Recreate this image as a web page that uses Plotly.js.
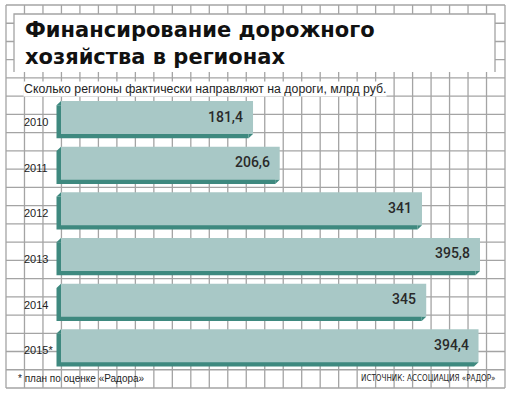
<!DOCTYPE html>
<html>
<head>
<meta charset="utf-8">
<script src="https://cdn.plot.ly/plotly-3.0.1.min.js"></script>
<style>html,body{margin:0;padding:0;background:#fff;}#chart{width:511px;height:398px;}</style>
</head>
<body>
<div id="chart"></div>
<script>
// ---- data ----
const years = ['2010', '2011', '2012', '2013', '2014', '2015*'];
const values = [181.4, 206.6, 341, 395.8, 345, 394.4];
const titleLines = ['Финансирование дорожного', 'хозяйства в регионах'];
const subtitle = 'Сколько регионы фактически направляют на дороги, млрд руб.';
const footnote = '* план по оценке «Радора»';
const source = 'ИСТОЧНИК: АССОЦИАЦИЯ «РАДОР»';

// ---- geometry / style ----
const W = 511, H = 398;
const FACE = '#a8c8c6', DARK = '#3e897f', GRID = '#a4a4a4';
const pxPerUnitX = (480 - 61) / 395.8;
const xRange = [-61 / pxPerUnitX, (W - 61) / pxPerUnitX];
const rowStep = 45.66, firstCenter = 117.5;
const yRange = [(H - firstCenter) / rowStep, -firstCenter / rowStep];
const barW = 33 / rowStep, h = barW / 2;
const dx = -4.5 / pxPerUnitX, dy = 4.3 / rowStep;
const idx = years.map((_, i) => i);
const fmt = v => String(v).replace('.', ',');
const SANS = 'Liberation Sans, Arial, sans-serif';

const px = x => x / W, py = y => 1 - y / H;

// grid + title box shapes
const shapes = [];
const gx0 = 6, gx1 = 505, gy0 = 5, gy1 = 388;
const nx = 27, ny = 21;
for (let k = 0; k <= nx; k++) {
  const x = gx0 + k * (gx1 - gx0) / nx;
  shapes.push({type: 'line', xref: 'paper', yref: 'paper', x0: px(x), x1: px(x), y0: py(gy0), y1: py(gy1),
    line: {color: GRID, width: 1.3}, layer: 'below'});
}
for (let k = 0; k <= ny; k++) {
  const y = gy0 + k * (gy1 - gy0) / ny;
  shapes.push({type: 'line', xref: 'paper', yref: 'paper', x0: px(gx0), x1: px(gx1), y0: py(y), y1: py(y),
    line: {color: GRID, width: 1.3}, layer: 'below'});
}
shapes.push({type: 'rect', xref: 'paper', yref: 'paper', x0: px(14), x1: px(495), y0: py(72), y1: py(14),
  fillcolor: '#fff', line: {width: 0}, layer: 'below'});
shapes.push({type: 'path', xref: 'paper', yref: 'paper',
  path: `M${px(14)},${py(72)} L${px(14)},${py(14)} L${px(495)},${py(14)} L${px(495)},${py(72)}`,
  line: {color: GRID, width: 1.3}, layer: 'below'});

// traces
const shadow = {
  type: 'bar', orientation: 'h', x: values, y: idx, base: dx, width: barW, offset: -h + dy,
  marker: {color: DARK, line: {width: 0}}, hoverinfo: 'skip'
};
const face = {
  type: 'bar', orientation: 'h', x: values, y: idx, base: 0, width: barW, offset: -h,
  marker: {color: FACE, line: {width: 0}}, hoverinfo: 'skip'
};
const tx = [], ty = [];
values.forEach((v, i) => {
  tx.push(0, dx, 0, null); ty.push(i - h, i - h + dy, i - h + dy, null);
  tx.push(v + dx, v, v + dx, null); ty.push(i + h, i + h, i + h + dy, null);
});
const corners = {
  type: 'scatter', mode: 'lines', x: tx, y: ty, fill: 'toself', fillcolor: DARK,
  line: {color: DARK, width: 0}, hoverinfo: 'skip', connectgaps: false
};

// annotations
const annotations = [];
titleLines.forEach((t, i) => annotations.push({
  xref: 'paper', yref: 'paper', x: px(23), y: py(30 + i * 27.5), xanchor: 'left', yanchor: 'middle',
  text: '<b>' + t + '</b>', showarrow: false, font: {family: 'DejaVu Sans', size: 21, color: '#111'}
}));
annotations.push({
  xref: 'paper', yref: 'paper', x: px(23), y: py(89), xanchor: 'left', yanchor: 'middle',
  text: subtitle, showarrow: false, bgcolor: '#fff', borderpad: 0,
  font: {family: SANS, size: 12.3, color: '#1e1e1e'}
});
years.forEach((yr, i) => annotations.push({
  xref: 'x', yref: 'y', x: 0, y: i, xanchor: 'left', yanchor: 'middle', xshift: -39, yshift: -4.5,
  text: yr, showarrow: false, font: {family: SANS, size: 11, color: '#222'}
}));
values.forEach((v, i) => annotations.push({
  xref: 'x', yref: 'y', x: v, y: i, xanchor: 'right', yanchor: 'middle', xshift: -8, yshift: 1,
  text: fmt(v), showarrow: false, font: {family: 'Roboto, sans-serif', size: 14, color: '#2a2a2a', weight: 500}
}));
annotations.push({
  xref: 'paper', yref: 'paper', x: px(16), y: py(378), xanchor: 'left', yanchor: 'middle',
  text: footnote, showarrow: false, font: {family: SANS, size: 10, color: '#1e1e1e'}
});
annotations.push({
  xref: 'paper', yref: 'paper', x: px(498), y: py(378), xanchor: 'right', yanchor: 'middle',
  text: source, showarrow: false, font: {family: 'DejaVu Sans Condensed, DejaVu Sans, sans-serif', size: 8, color: '#1e1e1e'}
});

const layout = {
  width: W, height: H, margin: {l: 0, r: 0, t: 0, b: 0, pad: 0},
  paper_bgcolor: '#fff', plot_bgcolor: 'rgba(0,0,0,0)', showlegend: false, barmode: 'overlay',
  xaxis: {range: xRange, domain: [0, 1], visible: false, fixedrange: true},
  yaxis: {range: yRange, domain: [0, 1], visible: false, fixedrange: true},
  shapes, annotations
};
Plotly.newPlot('chart', [shadow, face, corners], layout, {staticPlot: true, displayModeBar: false});
</script>
</body>
</html>
